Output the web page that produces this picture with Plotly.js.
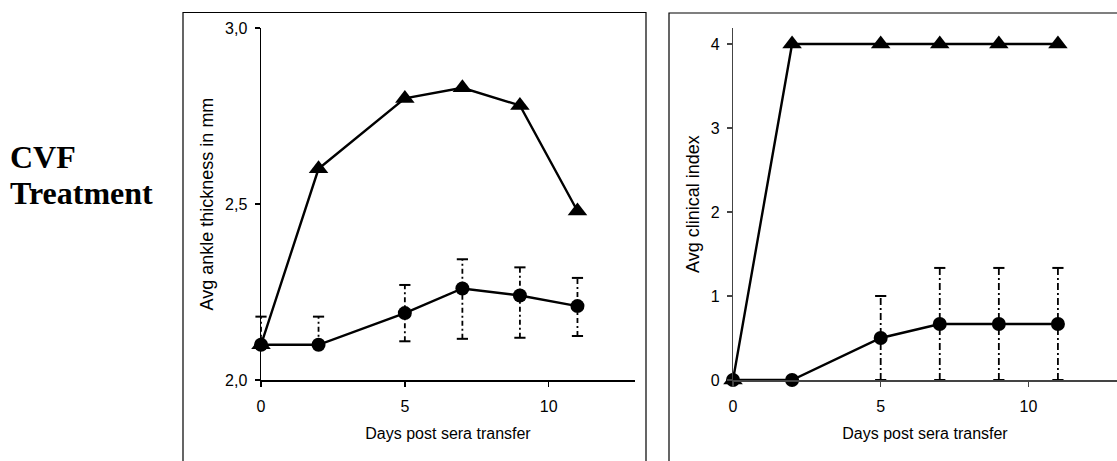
<!DOCTYPE html>
<html>
<head>
<meta charset="utf-8">
<script src="https://cdn.plot.ly/plotly-3.0.1.min.js"></script>
<style>
html,body{margin:0;padding:0;background:#fff;}
#chart{width:1117px;height:461px;}
</style>
</head>
<body>
<div id="chart"></div>
<script>
// ---- data ----
var days = [0, 2, 5, 7, 9, 11];
var ankleTriangle = [2.10, 2.60, 2.80, 2.83, 2.78, 2.48];
var ankleCircle = [2.10, 2.10, 2.19, 2.26, 2.24, 2.21];
var ankleErrPlus = [0.08, 0.08, 0.08, 0.083, 0.08, 0.08];
var ankleErrMinus = [0, 0, 0.08, 0.143, 0.12, 0.085];
var clinTriangle = [0, 4, 4, 4, 4, 4];
var clinCircle = [0, 0, 0.5, 0.667, 0.667, 0.667];
var clinErrPlus = [0, 0, 0.5, 0.667, 0.667, 0.667];
var clinErrMinus = [0, 0, 0.5, 0.667, 0.667, 0.667];
var xTicks = [0, 5, 10];
var ankleTicks = [2.0, 2.5, 3.0];
var ankleTickText = ['2,0', '2,5', '3,0'];
var clinTicks = [0, 1, 2, 3, 4];
var xTitle = 'Days post sera transfer';
var ankleTitle = 'Avg ankle thickness in mm';
var clinTitle = 'Avg clinical index';
var sideLabel1 = 'CVF';
var sideLabel2 = 'Treatment';

var W = 1117, H = 461;
function px(x){ return x / W; }
function py(y){ return 1 - y / H; }

var traces = [];
function errorTraces(xa, ya, mean, plus, minus, dash){
  var capX = [], capY = [];
  for (var i = 0; i < days.length; i++){
    if (plus[i] <= 0 && minus[i] <= 0) continue;
    traces.push({
      x: [days[i], days[i]], y: [mean[i] - minus[i], mean[i] + plus[i]],
      xaxis: xa, yaxis: ya, mode: 'lines', cliponaxis: false,
      line: {color: '#000', width: 1.8, dash: dash},
      hoverinfo: 'skip', showlegend: false
    });
    if (plus[i] > 0){ capX.push(days[i]); capY.push(mean[i] + plus[i]); }
    if (minus[i] > 0){ capX.push(days[i]); capY.push(mean[i] - minus[i]); }
  }
  traces.push({
    x: capX, y: capY, xaxis: xa, yaxis: ya, mode: 'markers', cliponaxis: false,
    marker: {symbol: 'line-ew', size: 8, line: {color: '#000', width: 2}},
    hoverinfo: 'skip', showlegend: false
  });
}
function series(xa, ya, vals, symbol, size){
  traces.push({
    x: days, y: vals, xaxis: xa, yaxis: ya, mode: 'lines+markers', cliponaxis: false,
    line: {color: '#000', width: 2.4},
    marker: {symbol: symbol, size: size, color: '#000'},
    showlegend: false
  });
}

errorTraces('x', 'y', ankleCircle, ankleErrPlus, ankleErrMinus, '5px,3px,2px,3px');
series('x', 'y', ankleTriangle, 'triangle-up', 17);
series('x', 'y', ankleCircle, 'circle', 14);

errorTraces('x2', 'y2', clinCircle, clinErrPlus, clinErrMinus, '7px,3px,2px,3px');
series('x2', 'y2', clinTriangle, 'triangle-up', 17);
series('x2', 'y2', clinCircle, 'circle', 14);

var tickFont = {family: 'Liberation Sans, Arial, sans-serif', size: 16, color: '#000'};
var yTitleFont = {family: 'Liberation Sans, Arial, sans-serif', size: 18, color: '#000'};

var layout = {
  width: W, height: H,
  margin: {l: 0, r: 0, t: 0, b: 0},
  paper_bgcolor: '#fff', plot_bgcolor: 'rgba(0,0,0,0)',
  showlegend: false,
  font: tickFont,
  xaxis: {
    domain: [px(261), px(635)], range: [0, 13], anchor: 'y',
    tickvals: xTicks, ticks: 'outside', ticklen: 5, tickcolor: '#000', tickwidth: 1.5,
    showline: true, linecolor: '#000', linewidth: 1.5,
    showgrid: false, zeroline: false, tickfont: tickFont, ticklabelstandoff: 6,
    title: {text: xTitle, font: tickFont, standoff: 14}
  },
  yaxis: {
    domain: [py(380), py(28)], range: [2, 3], anchor: 'x',
    tickvals: ankleTicks, ticktext: ankleTickText, ticks: 'outside', ticklen: 5, tickcolor: '#000', tickwidth: 1.5,
    showline: true, linecolor: '#000', linewidth: 1.5,
    showgrid: false, zeroline: false, tickfont: tickFont, ticklabelstandoff: 4,
    title: {text: ankleTitle, font: yTitleFont, standoff: 6}
  },
  xaxis2: {
    domain: [px(733), 1], range: [0, 13], anchor: 'y2',
    tickvals: xTicks, ticks: 'outside', ticklen: 5, tickcolor: '#444', tickwidth: 1.2,
    showline: true, linecolor: '#444', linewidth: 1.5,
    showgrid: false, zeroline: false, tickfont: tickFont, ticklabelstandoff: 6,
    title: {text: xTitle, font: tickFont, standoff: 14}
  },
  yaxis2: {
    domain: [py(380), py(28)], range: [0, 4.19], anchor: 'x2',
    tickvals: clinTicks, ticks: 'outside', ticklen: 5, tickcolor: '#444', tickwidth: 1.2,
    showline: true, linecolor: '#444', linewidth: 1.2,
    showgrid: false, zeroline: false, tickfont: tickFont, ticklabelstandoff: 4,
    title: {text: clinTitle, font: yTitleFont, standoff: 6}
  },
  shapes: [
    {type: 'rect', xref: 'paper', yref: 'paper', x0: px(183), x1: px(646), y0: -0.2, y1: py(12.5),
     line: {color: '#000', width: 1.2}, layer: 'below'},
    {type: 'rect', xref: 'paper', yref: 'paper', x0: px(669), x1: 1.2, y0: -0.2, y1: py(13),
     line: {color: '#000', width: 1.2}, layer: 'below'}
  ],
  annotations: [
    {text: '<b>' + sideLabel1 + '</b>', xref: 'paper', yref: 'paper', x: px(8), y: py(157),
     xanchor: 'left', yanchor: 'middle', showarrow: false,
     font: {family: 'Liberation Serif, Times New Roman, serif', size: 32, color: '#000'}},
    {text: '<b>' + sideLabel2 + '</b>', xref: 'paper', yref: 'paper', x: px(8), y: py(193),
     xanchor: 'left', yanchor: 'middle', showarrow: false,
     font: {family: 'Liberation Serif, Times New Roman, serif', size: 32, color: '#000'}}
  ]
};

Plotly.newPlot('chart', traces, layout, {staticPlot: true, displayModeBar: false});
</script>
</body>
</html>
